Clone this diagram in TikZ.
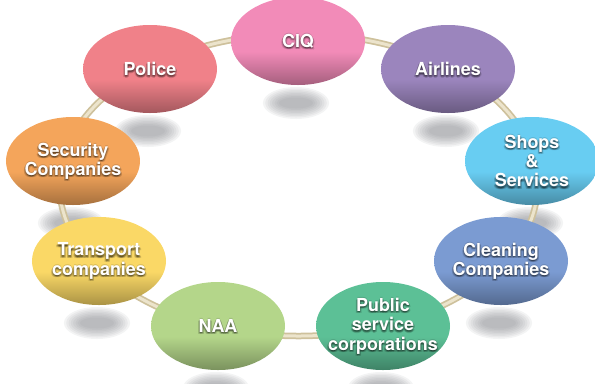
\documentclass[tikz,border=0pt]{standalone}
\usepackage{fontspec}
\newfontfamily\labelfont{TeX Gyre Heros}
\usetikzlibrary{shapes.geometric}

\pgfdeclarelayer{back}
\pgfsetlayers{back,main}

% flat body colour with a darker rim towards the bottom
\pgfdeclareverticalshading[bubtop,bubbot]{bubble}{100bp}{%
  color(0bp)=(bubbot); color(25bp)=(bubbot); color(44bp)=(bubtop); color(100bp)=(bubtop)}

\definecolor{ciqc}{RGB}{242,139,184}
\definecolor{airc}{RGB}{155,133,189}
\definecolor{shopc}{RGB}{104,205,242}
\definecolor{cleanc}{RGB}{123,155,210}
\definecolor{pubc}{RGB}{92,192,150}
\definecolor{naac}{RGB}{180,214,138}
\definecolor{transc}{RGB}{250,216,102}
\definecolor{secc}{RGB}{244,165,91}
\definecolor{polc}{RGB}{240,129,137}
\definecolor{shadowgray}{RGB}{120,122,128}
\definecolor{ringdark}{RGB}{206,193,156}
\definecolor{ringlight}{RGB}{236,228,204}

\tikzset{
  bubble/.style={ellipse, minimum width=134bp, minimum height=88bp, inner sep=0pt,
    /utils/exec={\colorlet{bubtop}{#1}\colorlet{bubbot}{#1!68!black}}, shading=bubble},
  caption/.style={text=white, align=center, inner sep=0pt,
    font=\labelfont\bfseries\fontsize{18}{19.5}\selectfont},
  glow/.style={caption, text=black, text opacity=0.14},
  ringedge/.style={draw=ringdark, line width=6.5bp},
  ringcore/.style={draw=ringlight, line width=3bp},
}

% soft shadow cast below a bubble
\newcommand\dropshade[1]{%
  \foreach \k in {0,...,7}{%
    \fill[shadowgray, opacity=0.085] ([shift={(-2,62)}]#1.center)
      ellipse ({17+2.3*\k} and {5.5+1.5*\k});}}

% white label with a dark halo
\newcommand\bubblelabel[2]{%
  \foreach \dx/\dy [count=\n] in {0/1.4, 1/1.2, -1/1.2, 0/2.4, 1.5/2.2, -1.5/2.2, 0/-0.6}{%
    \node[glow] (#1-glow\n) at ([shift={(\dx,\dy)}]#1.center) {#2};}
  \node[caption] (#1-text) at (#1.center) {#2};}

\begin{document}
\begin{tikzpicture}[x=1bp, y=-1bp]
  \useasboundingbox (0,0) rectangle (595,383);

  \node[bubble=ciqc]   (ciq)       at (298,41)  {};
  \bubblelabel{ciq}{CIQ}
  \node[bubble=airc]   (airlines)  at (448,69)  {};
  \bubblelabel{airlines}{Airlines}
  \node[bubble=shopc]  (shops)     at (532,161) {};
  \bubblelabel{shops}{Shops\\\&\\Services}
  \node[bubble=cleanc] (cleaning)  at (501,261) {};
  \bubblelabel{cleaning}{Cleaning\\Companies}
  \node[bubble=pubc]   (public)    at (383,326) {};
  \bubblelabel{public}{Public\\service\\corporations}
  \node[bubble=naac]   (naa)       at (218,326) {};
  \bubblelabel{naa}{NAA}
  \node[bubble=transc] (transport) at (99,261)  {};
  \bubblelabel{transport}{Transport\\companies}
  \node[bubble=secc]   (security)  at (73,161)  {};
  \bubblelabel{security}{Security\\Companies}
  \node[bubble=polc]   (police)    at (150,69)  {};
  \bubblelabel{police}{Police}

  \begin{pgfonlayer}{back}
    \foreach \b in {ciq,airlines,shops,cleaning,public,naa,transport,security,police}
      \dropshade{\b}
    % the ring linking all partners
    \coordinate (hub) at (298.5,185);
    \draw[ringedge] (hub) ellipse (239 and 151);
    \draw[ringcore] (hub) ellipse (239 and 151);
  \end{pgfonlayer}
\end{tikzpicture}
\end{document}
